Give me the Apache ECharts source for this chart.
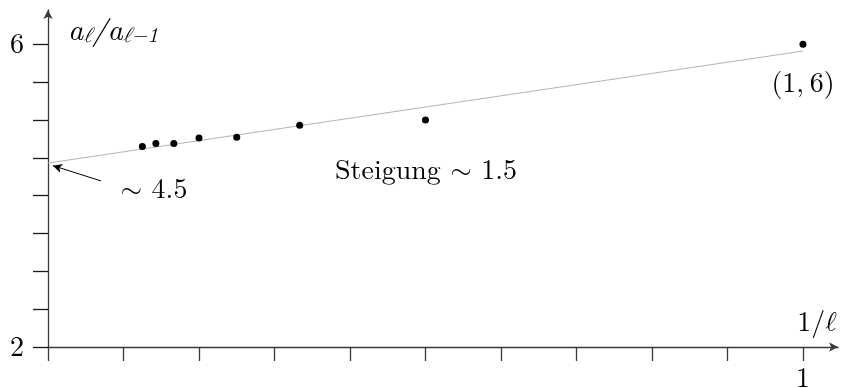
<!DOCTYPE html>
<html><head><meta charset="utf-8">
<script src="https://cdn.jsdelivr.net/npm/echarts@6/dist/echarts.min.js"></script>
<style>html,body{margin:0;padding:0;background:#fff}#c{width:842px;height:388px}</style>
</head><body><div id="c"></div>
<script>
// data
const invL = [1/8, 1/7, 1/6, 1/5, 1/4, 1/3, 1/2, 1];
const ratio = [4.65, 4.69, 4.69, 4.76, 4.77, 4.93, 5.0, 6.0];
const fitX = [0, 1];
const fitY = [4.43, 5.91];
const xTicks = [0,0.1,0.2,0.3,0.4,0.5,0.6,0.7,0.8,0.9,1];
const xTickLabels = [1];
const yTicks = [2,2.5,3,3.5,4,4.5,5,5.5,6];
const yTickLabels = [2,6];
const arrowFrom = [0.0702, 4.194];
const arrowTo = [0.0066, 4.396];

const serif = '"Latin Modern Roman","Latin Modern Math","CMU Serif","DejaVu Serif",serif';
const chart = echarts.init(document.getElementById('c'), null, {renderer:'canvas'});
chart.setOption({
  animation:false,
  backgroundColor:'#fff',
  grid:{left:48, right:4, top:10, bottom:41, containLabel:false, outerBoundsMode:'none'},
  xAxis:{type:'value', min:0, max:1.0464,
    splitLine:{show:false},
    axisLine:{onZero:false, lineStyle:{color:'#3a3a3a', width:1.3}, symbol:['none','arrow'], symbolSize:[7,9]},
    axisTick:{show:true, customValues:xTicks, length:14, lineStyle:{color:'#3a3a3a', width:1.3}},
    axisLabel:{customValues:xTickLabels, margin:17, color:'#000', fontFamily:serif, fontSize:28}
  },
  yAxis:{type:'value', min:2, max:6.452,
    splitLine:{show:false},
    axisLine:{onZero:false, lineStyle:{color:'#3a3a3a', width:1.3}, symbol:['none','arrow'], symbolSize:[7,9]},
    axisTick:{show:true, customValues:yTicks, length:15, lineStyle:{color:'#1a1a1a', width:1.3}},
    axisLabel:{customValues:yTickLabels, margin:24, color:'#000', fontFamily:serif, fontSize:28}
  },
  series:[
    {type:'line', data:fitX.map((x,i)=>[x,fitY[i]]), showSymbol:false, symbol:'none',
     lineStyle:{color:'#b4b4b4', width:1}, z:1,
     markLine:{silent:true, symbol:['none','arrow'], symbolSize:[7,9],
       lineStyle:{color:'#000', width:1, type:'solid'}, label:{show:false},
       data:[[{coord:arrowFrom},{coord:arrowTo}]]}},
    {type:'scatter', data:invL.map((x,i)=>[x,ratio[i]]), symbolSize:7,
     itemStyle:{color:'#000', opacity:1}, z:3}
  ],
  graphic:[
    {type:'text', left:68, top:16, style:{
      text:'{m|a}{s|ℓ}{m|/a}{s|ℓ−1}', rich:{
        m:{fontFamily:serif, fontStyle:'italic', fontSize:30, fill:'#000', verticalAlign:'bottom', lineHeight:32},
        s:{fontFamily:serif, fontStyle:'italic', fontSize:21, fill:'#000', verticalAlign:'bottom', lineHeight:25}
      }}},
    {type:'text', x:817, y:322, style:{text:'1/ℓ', fontFamily:serif, fontSize:28, fill:'#000', align:'center', verticalAlign:'middle'}},
    {type:'text', x:154, y:189, style:{text:'∼ 4.5', fontFamily:serif, fontSize:28, fill:'#000', align:'center', verticalAlign:'middle'}},
    {type:'text', x:426, y:170, style:{text:'Steigung ∼ 1.5', fontFamily:serif, fontSize:28, fill:'#000', align:'center', verticalAlign:'middle'}},
    {type:'text', x:803, y:83, style:{text:'(1,\u20096)', fontFamily:serif, fontSize:28, fill:'#000', align:'center', verticalAlign:'middle'}}
  ]
});
</script></body></html>
